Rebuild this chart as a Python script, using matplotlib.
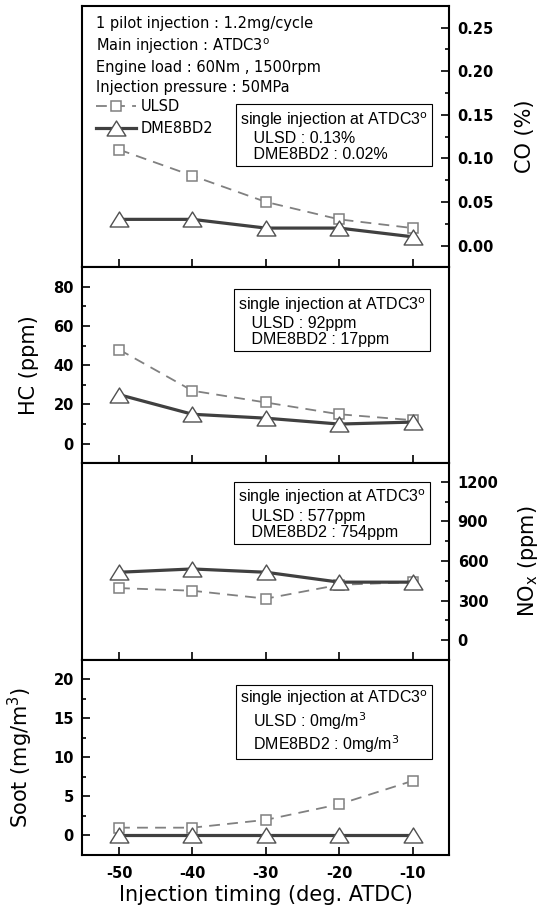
"""
Emission vs injection timing for ULSD and DME8BD2: CO, HC, NOx and soot
in four stacked panels sharing the injection-timing axis.
"""

import matplotlib
matplotlib.use("Agg")
import matplotlib.pyplot as plt
from matplotlib.path import Path
from matplotlib.ticker import MultipleLocator

timing = [-50, -40, -30, -20, -10]

co_ulsd = [0.11, 0.08, 0.05, 0.03, 0.02]
co_dme = [0.03, 0.03, 0.02, 0.02, 0.01]
hc_ulsd = [48, 27, 21, 15, 12]
hc_dme = [25, 15, 13, 10, 11]
nox_ulsd = [395, 375, 315, 420, 440]
nox_dme = [515, 540, 515, 440, 440]
soot_ulsd = [1, 1, 2, 4, 7]
soot_dme = [0, 0, 0, 0, 0]

co_ticks = [0.00, 0.05, 0.10, 0.15, 0.20, 0.25]
hc_ticks = [0, 20, 40, 60, 80]
nox_ticks = [0, 300, 600, 900, 1200]
soot_ticks = [0, 5, 10, 15, 20]

deg = r"$^{\mathrm{o}}$"
co_note = f"single injection at ATDC3{deg}\n   ULSD : 0.13%\n   DME8BD2 : 0.02%"
hc_note = f"single injection at ATDC3{deg}\n   ULSD : 92ppm\n   DME8BD2 : 17ppm"
nox_note = f"single injection at ATDC3{deg}\n   ULSD : 577ppm\n   DME8BD2 : 754ppm"
soot_note = (f"single injection at ATDC3{deg}\n   ULSD : 0mg/m$^3$\n"
             f"   DME8BD2 : 0mg/m$^3$")
conditions = ("1 pilot injection : 1.2mg/cycle\n"
              f"Main injection : ATDC3{deg}\n"
              "Engine load : 60Nm , 1500rpm\n"
              "Injection pressure : 50MPa")

ULSD_C = "#808080"
DME_C = "#404040"
# flat open triangle, a bit wider than tall
TRI = Path([(0, 0.8), (-1, -0.8), (1, -0.8), (0, 0.8)], closed=True)

fig = plt.figure(figsize=(5.39, 9.08), dpi=100)
L, W = 0.1527, 0.6809
rects = [(0.7056, 0.2881), (0.4898, 0.2159), (0.2731, 0.2166), (0.0584, 0.2148)]

panels = [
    # ulsd, dme, ylim, ticks, fmt, minor, side, ylabel, label x, note, note xy
    (co_ulsd, co_dme, (-0.025, 0.275), co_ticks, "{:.2f}", 0.025, "right",
     "CO (%)", 1.178, co_note, (0.430, 0.600)),
    (hc_ulsd, hc_dme, (-10, 90), hc_ticks, "{:d}", 10, "left",
     "HC (ppm)", -0.119, hc_note, (0.424, 0.856)),
    (nox_ulsd, nox_dme, (-150, 1340), nox_ticks, "{:d}", 150, "right",
     r"NO$_{\mathrm{x}}$ (ppm)", 1.181, nox_note, (0.423, 0.876)),
    (soot_ulsd, soot_dme, (-2.5, 22.5), soot_ticks, "{:d}", 2.5, "left",
     "Soot (mg/m$^3$)", -0.128, soot_note, (0.430, 0.853)),
]

axes = []
for (b, h), (ul, dm, ylim, ticks, fmt, minor, side, ylab, lx, note, nxy) in zip(rects, panels):
    ax = fig.add_axes([L, b, W, h])
    axes.append(ax)
    ax.plot(timing, ul, color=ULSD_C, lw=1.3, dashes=(6, 4), marker="s", ms=7.5,
            mfc="white", mec=ULSD_C, mew=1.1, label="ULSD", zorder=3)
    ax.plot(timing, dm, color=DME_C, lw=2.3, marker=TRI, ms=13.5,
            mfc="white", mec="#505050", mew=1.0, label="DME8BD2", zorder=4)

    ax.set_xlim(-55, -5)
    ax.set_ylim(*ylim)
    ax.set_yticks(ticks, [fmt.format(t) for t in ticks], fontweight="bold", fontsize=10.5)
    ax.yaxis.set_minor_locator(MultipleLocator(minor))
    on_left = side == "left"
    ax.tick_params(axis="y", which="both", direction="in", left=on_left, right=not on_left,
                   labelleft=on_left, labelright=not on_left, pad=6)
    ax.tick_params(axis="y", which="major", length=6, width=1.2)
    ax.tick_params(axis="y", which="minor", length=3.2, width=1.2)
    ax.set_xticks(timing, [str(t) for t in timing], fontweight="bold", fontsize=10.5)
    ax.tick_params(axis="x", direction="in", length=5.5, width=1.2, top=False, pad=8)
    for s in ax.spines.values():
        s.set_linewidth(1.5)

    ax.set_ylabel(ylab, fontsize=15)
    if not on_left:
        ax.yaxis.set_label_position("right")
    ax.yaxis.set_label_coords(lx, 0.5)

    ax.text(nxy[0], nxy[1], note, transform=ax.transAxes, ha="left", va="top",
            family="Liberation Sans", fontsize=11.5, linespacing=1.1, zorder=5,
            bbox=dict(boxstyle="square,pad=0.25", fc="white", ec="black", lw=0.8))

for ax in axes[:-1]:
    ax.tick_params(axis="x", labelbottom=False)
axes[-1].set_xlabel("Injection timing (deg. ATDC)", fontsize=15, labelpad=3)

top = axes[0]
top.text(0.038, 0.962, conditions, transform=top.transAxes, ha="left", va="top",
         fontsize=10.5, linespacing=1.38)
top.legend(loc="upper left", bbox_to_anchor=(0.036, 0.642), frameon=False,
           fontsize=10.5, borderpad=0, borderaxespad=0, handlelength=2.8,
           handletextpad=0.3, labelspacing=0.45, numpoints=1)

fig.savefig("out.png", dpi=100)
